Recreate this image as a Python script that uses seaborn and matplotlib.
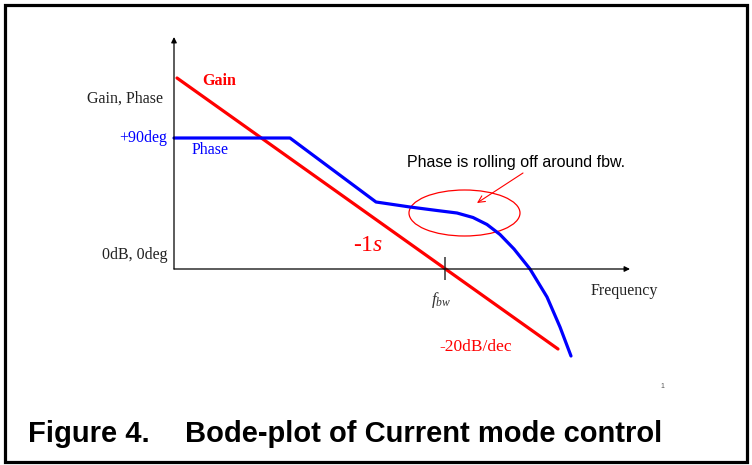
import matplotlib
matplotlib.use("Agg")
import matplotlib.pyplot as plt
from matplotlib.patches import Ellipse, Rectangle
import seaborn as sns
import numpy as np

# ===============================================
# Data (x: log-frequency units, y: gain/phase units, origin = 0dB/0deg)
# ===============================================
gain_freq = [3, 384]
gain_db = [191, -80]

phase_freq = [0, 116, 202, 236, 263, 283, 299, 313, 326, 340, 356, 373, 386, 397]
phase_deg = [131, 131, 67, 62, 58.5, 56, 51.5, 44.5, 34.5, 20, 0, -28, -58, -87]

f_bw = 271
level_90deg = 131
axis_x_end = 456
axis_y_end = 232

# rolling-off zone marker (center, width, height)
roll_center = (290.5, 56)
roll_size = (111, 46)

y_labels = ["Gain, Phase", "+90deg", "0dB, 0deg"]
title_num = "Figure 4."
title_text = "Bode-plot of Current mode control"

# ===============================================
# Style
# ===============================================
sns.set_theme(style="white")
plt.rcParams["font.family"] = ["Liberation Serif", "DejaVu Serif"]
plt.rcParams["mathtext.fontset"] = "custom"
plt.rcParams["mathtext.rm"] = "Liberation Serif"
plt.rcParams["mathtext.it"] = "Liberation Serif:italic"

fig = plt.figure(figsize=(7.52, 4.65), dpi=100)
ax = fig.add_axes([0, 0, 1, 1])
ax.set_xlim(-174, 578)
ax.set_ylim(-196, 269)
ax.axis("off")

# axes with arrows
arrow_kw = dict(arrowstyle="-|>", color="black", lw=0.9, mutation_scale=8,
                shrinkA=0, shrinkB=0)
ax.annotate("", xy=(axis_x_end, 0), xytext=(0, 0), arrowprops=arrow_kw)
ax.annotate("", xy=(0, axis_y_end), xytext=(0, 0), arrowprops=arrow_kw)

# curves
sns.lineplot(x=gain_freq, y=gain_db, color="#ff0000", lw=2.3, ax=ax)
sns.lineplot(x=phase_freq, y=phase_deg, color="#0000ff", lw=2.3, sort=False,
             estimator=None, ax=ax)

# fbw tick
ax.vlines(f_bw, -11, 12, color="#333333", lw=1.1)

# rolling-off ellipse + arrow
ax.add_patch(Ellipse(roll_center, roll_size[0], roll_size[1], fill=False,
                     ec="#ff0000", lw=0.9))
ax.annotate("", xy=(303, 66), xytext=(349, 96),
            arrowprops=dict(arrowstyle="->", color="#ff0000", lw=0.8,
                            shrinkA=0, shrinkB=0))
ax.text(342, 106, "Phase is rolling off around fbw.", ha="center", va="center",
        fontsize=11.5, family="Liberation Sans", color="black")

# labels
ax.text(-11, 170, y_labels[0], ha="right", va="center", fontsize=11.5, color="#222222")
ax.text(-7, level_90deg, y_labels[1], ha="right", va="center", fontsize=11.5, color="#0000ff")
ax.text(-7, 14, y_labels[2], ha="right", va="center", fontsize=11.5, color="#222222")
ax.text(28, 188, "Gain", ha="left", va="center", fontsize=11.5, color="#ff0000",
        fontweight="bold")
ax.text(18, 119, "Phase", ha="left", va="center", fontsize=11.5, color="#0000ff")
ax.text(194, 24, r"-1$s$", ha="center", va="center", fontsize=17, color="#ff0000")
ax.text(267, -31, r"$f_{bw}$", ha="center", va="center", fontsize=12, color="#333333")
ax.text(417, -22, "Frequency", ha="left", va="center", fontsize=11.5, color="#222222")
ax.text(302, -78, "-20dB/dec", ha="center", va="center", fontsize=12.5, color="#ff0000")
ax.text(488, -117, "1", ha="center", va="center", fontsize=5, color="#555555",
        family="Liberation Sans")

# caption
ax.text(-146, -173, title_num, ha="left", va="baseline", fontsize=21,
        fontweight="bold", family="Liberation Sans", color="black")
ax.text(11, -173, title_text, ha="left", va="baseline", fontsize=21,
        fontweight="bold", family="Liberation Sans", color="black")

# page frame
fig.add_artist(Rectangle((5 / 752, 3 / 465), 741.5 / 752, 456.5 / 465,
                         transform=fig.transFigure, fill=False, ec="black", lw=2.3))

plt.savefig("out.png", dpi=100)
